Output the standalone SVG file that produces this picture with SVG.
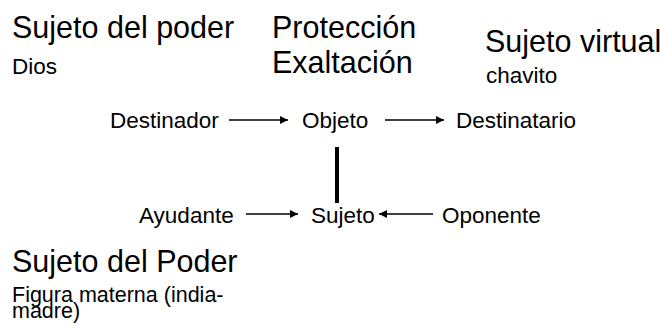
<svg xmlns="http://www.w3.org/2000/svg" width="661" height="329" viewBox="0 0 661 329">
<style>
text{font-family:"Liberation Sans",Arial,sans-serif;fill:#000}
.h{font-size:30.5px}
.s{font-size:22.5px}
.f{font-size:21.5px}
.c{stroke:#000;stroke-width:1.5;fill:none}
</style>
<defs>
<marker id="ah" viewBox="0 0 10 10" refX="10" refY="5" markerWidth="10" markerHeight="8" markerUnits="userSpaceOnUse" orient="auto">
<path d="M0,0 L10,5 L0,10 z" fill="#000"/>
</marker>
</defs>
<rect width="661" height="329" fill="#fff"/>
<g id="sujeto-poder-top"><text class="h" x="12" y="38">Sujeto del poder</text><text class="s" x="12" y="74">Dios</text></g>
<g id="proteccion"><text class="h" x="272" y="38">Protección</text><text class="h" x="272" y="73">Exaltación</text></g>
<g id="sujeto-virtual"><text class="h" x="485" y="52">Sujeto virtual</text><text class="s" x="486" y="83">chavito</text></g>
<g id="destinador"><text class="s" x="110" y="128">Destinador</text></g>
<g id="objeto"><text class="s" x="302" y="128">Objeto</text></g>
<g id="destinatario"><text class="s" x="456" y="128">Destinatario</text></g>
<g id="ayudante"><text class="s" x="139" y="223">Ayudante</text></g>
<g id="sujeto"><text class="s" x="311" y="223">Sujeto</text></g>
<g id="oponente"><text class="s" x="442" y="223">Oponente</text></g>
<g id="sujeto-poder-bottom"><text class="h" x="12" y="272">Sujeto del Poder</text><text class="f" x="12" y="302">Figura materna (india-</text><text class="f" x="12" y="318">madre)</text></g>
<g id="connectors">
<line class="c" x1="229" y1="120" x2="288" y2="120" marker-end="url(#ah)"/>
<line class="c" x1="385" y1="120" x2="444" y2="120" marker-end="url(#ah)"/>
<line x1="337" y1="147" x2="337" y2="203" stroke="#000" stroke-width="4"/>
<line class="c" x1="246" y1="214" x2="298" y2="214" marker-end="url(#ah)"/>
<line class="c" x1="433" y1="214" x2="379" y2="214" marker-end="url(#ah)"/>
</g>
</svg>
